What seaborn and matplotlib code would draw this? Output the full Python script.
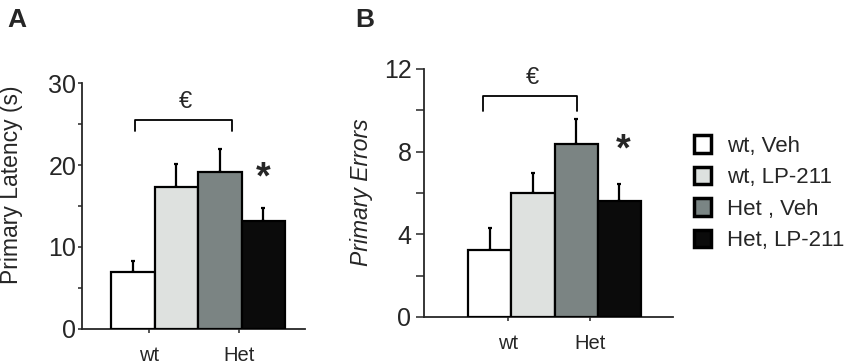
import matplotlib
matplotlib.use("Agg")
import matplotlib.pyplot as plt
import seaborn as sns
import pandas as pd
from matplotlib.patches import Patch
from matplotlib.ticker import MultipleLocator

groups = ["wt, Veh", "wt, LP-211", "Het , Veh", "Het, LP-211"]
colors = ["#ffffff", "#dde1df", "#7a8584", "#0b0b0b"]
latency_mean = [6.9, 17.3, 19.1, 13.2]
latency_sem = [1.4, 2.8, 2.9, 1.6]
errors_mean = [3.24, 6.0, 8.37, 5.6]
errors_sem = [1.06, 0.95, 1.23, 0.83]
genotype_labels = ["wt", "Het"]

sns.set_style("ticks")
plt.rcParams["font.family"] = ["Liberation Sans", "DejaVu Sans"]

fig = plt.figure(figsize=(8.5, 3.63), dpi=100)
axA = fig.add_axes([82/850, 1-329/363, 223/850, 246/363])
axB = fig.add_axes([424/850, 1-317/363, 249/850, 248/363])

palette = dict(zip(groups, colors))

def panel(ax, means, sems, ylim, major, minor, xlim, xt, ylabel, italic,
          bracket, euro, star, ticklen, tickpad, labelcoords):
    df = pd.DataFrame({"group": groups, "value": means})
    sns.barplot(data=df, x="group", y="value", hue="group", order=groups,
                hue_order=groups, palette=palette, width=1.0, edgecolor="black",
                linewidth=1.6, legend=False, errorbar=None, ax=ax, zorder=3)
    xs = list(range(len(groups)))
    ax.errorbar(xs, means, yerr=[[0]*len(sems), sems], fmt="none",
                ecolor="black", elinewidth=1.6, capsize=1.5, capthick=1.6, zorder=2)
    ax.set_xlim(*xlim)
    ax.set_ylim(*ylim)
    ax.yaxis.set_major_locator(MultipleLocator(major))
    ax.yaxis.set_minor_locator(MultipleLocator(minor))
    ax.set_xticks(xt)
    ax.set_xticklabels(genotype_labels, fontsize=14.5)
    ax.set_xlabel("")
    ax.set_ylabel(ylabel, fontsize=16.5, style="italic" if italic else "normal")
    ax.yaxis.set_label_coords(*labelcoords)
    for s in ["top", "right"]:
        ax.spines[s].set_visible(False)
    for s in ["left", "bottom"]:
        ax.spines[s].set_linewidth(1.3)
    ax.tick_params(axis="y", which="major", labelsize=18, length=ticklen,
                   width=1.1, pad=tickpad, direction="out")
    ax.tick_params(axis="y", which="minor", length=ticklen, width=1.1, direction="out")
    ax.tick_params(axis="x", length=3, width=1.1, pad=9)
    (x0, x1), (yb, yt) = bracket
    ax.plot([x0, x0, x1, x1], [yb, yt, yt, yb], color="black", lw=1.3,
            clip_on=False)
    ax.text(euro[0], euro[1], "€", ha="center", va="center", fontsize=17)
    ax.text(star[0], star[1], "*", ha="center", va="center", fontsize=27,
            fontweight="bold")

panel(axA, latency_mean, latency_sem, (0, 30), 10, 5, (-1.17, 3.96), [0.38, 2.44],
      "Primary Latency (s)", False, ((0.05, 2.27), (24.2, 25.5)), (1.22, 27.7),
      (3.0, 18.4), 3, 1, (-0.265, 0.585))
panel(axB, errors_mean, errors_sem, (0, 12), 4, 2, (-1.52, 4.24), [0.43, 2.33],
      "Primary Errors", True, ((-0.15, 2.03), (9.97, 10.7)), (1.0, 11.56),
      (3.08, 8.05), 6, 3, (-0.205, 0.504))

fig.text(7/850, 1-27/363, "A", fontsize=19, fontweight="bold", ha="left", va="baseline")
fig.text(355/850, 1-27/363, "B", fontsize=19, fontweight="bold", ha="left", va="baseline")

handles = [Patch(facecolor=c, edgecolor="black", linewidth=2.5) for c in colors]
fig.legend(handles, groups, loc="upper left", bbox_to_anchor=(694/850, 1-135/363),
           frameon=False, fontsize=16, handlelength=0.75, handleheight=0.85,
           handletextpad=0.75, labelspacing=0.45, borderaxespad=0, borderpad=0)

fig.savefig("out.png", dpi=100)
